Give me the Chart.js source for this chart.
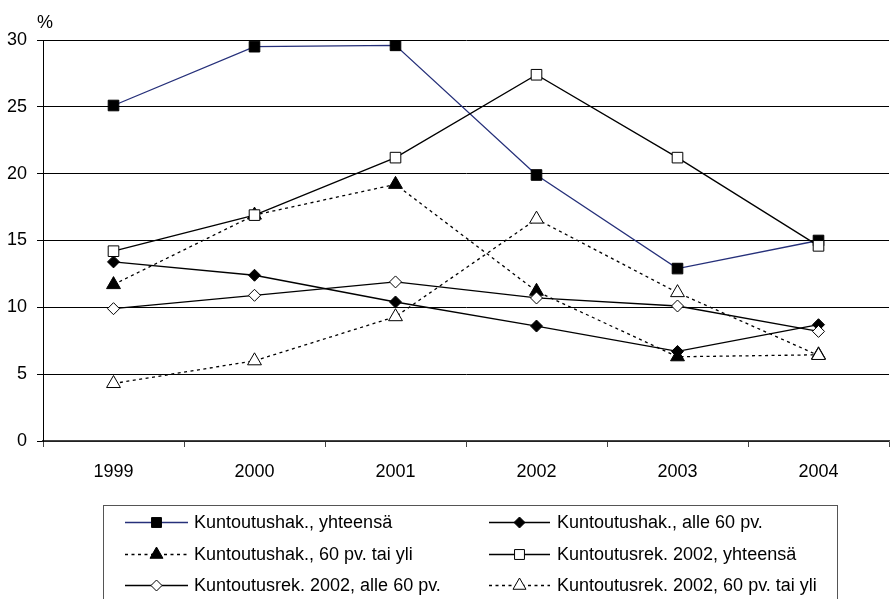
<!DOCTYPE html>
<html>
<head>
<meta charset="utf-8">
<script src="https://cdn.jsdelivr.net/npm/chart.js@4"></script>
<style>
  html, body { margin: 0; padding: 0; overflow: hidden; background: #fff; }
  #wrap { width: 898px; height: 599px; }
</style>
</head>
<body>
<div id="wrap"><canvas id="kuntoutus" width="898" height="599"></canvas></div>
<script>
// categories
const years = ['1999', '2000', '2001', '2002', '2003', '2004'];

// series values (%)
const hakYhteensa = [25.1, 29.5, 29.6, 19.9, 12.9, 15.0];
const hakAlle60 = [13.4, 12.4, 10.4, 8.6, 6.7, 8.7];
const hak60TaiYli = [11.7, 16.9, 19.2, 11.2, 6.3, 6.45];
const rekYhteensa = [14.2, 16.9, 21.2, 27.4, 21.2, 14.6];
const rekAlle60 = [9.9, 10.9, 11.9, 10.7, 10.1, 8.2];
const rek60TaiYli = [4.3, 6.0, 9.3, 16.6, 11.1, 6.4];

const seriesLabels = [
  'Kuntoutushak., yhteensä',
  'Kuntoutushak., alle 60 pv.',
  'Kuntoutushak., 60 pv. tai yli',
  'Kuntoutusrek. 2002, yhteensä',
  'Kuntoutusrek. 2002, alle 60 pv.',
  'Kuntoutusrek. 2002, 60 pv. tai yli'
];

const yTicks = [0, 5, 10, 15, 20, 25, 30];
const unitLabel = '%';

const FONT = '"Liberation Sans", Arial, sans-serif';
const DOTS = [3, 3.5];

function series(i, data, color, style, radius, fill, dashed) {
  return {
    label: seriesLabels[i],
    data: data,
    borderColor: color,
    borderWidth: 1.3,
    borderDash: dashed ? DOTS : [],
    tension: 0,
    pointStyle: style,
    pointRadius: radius,
    pointBorderWidth: 1,
    pointBorderColor: '#000',
    pointBackgroundColor: fill,
    order: 5 - i,
    fill: false
  };
}

const datasets = [
  series(0, hakYhteensa, '#26307a', 'rect', 7.5, '#000', false),
  series(1, hakAlle60, '#000', 'rectRot', 6, '#000', false),
  series(2, hak60TaiYli, '#000', 'triangle', 8, '#000', true),
  series(3, rekYhteensa, '#000', 'rect', 7.5, '#fff', false),
  series(4, rekAlle60, '#000', 'rectRot', 6, '#fff', false),
  series(5, rek60TaiYli, '#000', 'triangle', 8, '#fff', true)
];

// legend box with line + marker samples, and the "%" unit label
const boxLegend = {
  id: 'boxLegend',
  afterDraw(chart) {
    const ctx = chart.ctx;
    ctx.save();
    ctx.font = '18px ' + FONT;
    ctx.fillStyle = '#000';
    ctx.textAlign = 'center';
    ctx.textBaseline = 'middle';
    ctx.fillText(unitLabel, 45, 23);

    ctx.strokeStyle = '#555';
    ctx.lineWidth = 1;
    ctx.strokeRect(103.5, 505.5, 734, 120);

    const cols = [{ x0: 125, x1: 188, text: 194 }, { x0: 489, x1: 550, text: 557 }];
    const rows = [522, 554, 585];
    datasets.forEach((ds, i) => {
      const c = cols[i % 2];
      const y = rows[Math.floor(i / 2)];
      ctx.save();
      ctx.strokeStyle = ds.borderColor;
      ctx.lineWidth = ds.borderWidth;
      ctx.setLineDash(ds.borderDash);
      ctx.beginPath();
      ctx.moveTo(c.x0, y + 0.5);
      ctx.lineTo(c.x1, y + 0.5);
      ctx.stroke();
      ctx.setLineDash([]);
      ctx.fillStyle = ds.pointBackgroundColor;
      ctx.strokeStyle = ds.pointBorderColor;
      ctx.lineWidth = ds.pointBorderWidth;
      Chart.helpers.drawPoint(ctx, {
        pointStyle: ds.pointStyle,
        radius: ds.pointRadius - 0.5,
        rotation: 0,
        borderWidth: ds.pointBorderWidth
      }, (c.x0 + c.x1) / 2, y + 0.5);
      ctx.restore();
      ctx.fillStyle = '#000';
      ctx.textAlign = 'left';
      ctx.textBaseline = 'middle';
      ctx.fillText(ds.label, c.text, y + 1);
    });
    ctx.restore();
  }
};

new Chart(
  document.getElementById('kuntoutus'),
  {
    type: 'line',
    data: {
      labels: years,
      datasets: datasets
    },
    options: {
      responsive: false,
      animation: false,
      layout: { padding: { top: 40, left: 0, right: 0, bottom: 0 } },
      plugins: {
        legend: { display: false },
        tooltip: { enabled: false }
      },
      scales: {
        x: {
          offset: true,
          afterFit: (scale) => { scale.height = 158; },
          grid: {
            offset: true,
            drawOnChartArea: false,
            tickLength: 6,
            tickColor: '#444',
            tickWidth: 1
          },
          border: { color: '#444', width: 1.5 },
          ticks: {
            color: '#000',
            padding: 14,
            font: { family: FONT, size: 18 },
            maxRotation: 0
          }
        },
        y: {
          min: 0,
          max: 30,
          afterFit: (scale) => { scale.width = 43; },
          afterBuildTicks: (scale) => { scale.ticks = yTicks.map(v => ({ value: v })); },
          grid: {
            color: '#000',
            lineWidth: 1,
            tickLength: 6,
            tickColor: '#000'
          },
          border: { color: '#000', width: 1 },
          ticks: {
            color: '#000',
            padding: 10,
            font: { family: FONT, size: 18 }
          }
        }
      }
    },
    plugins: [boxLegend]
  }
);
</script>
</body>
</html>
